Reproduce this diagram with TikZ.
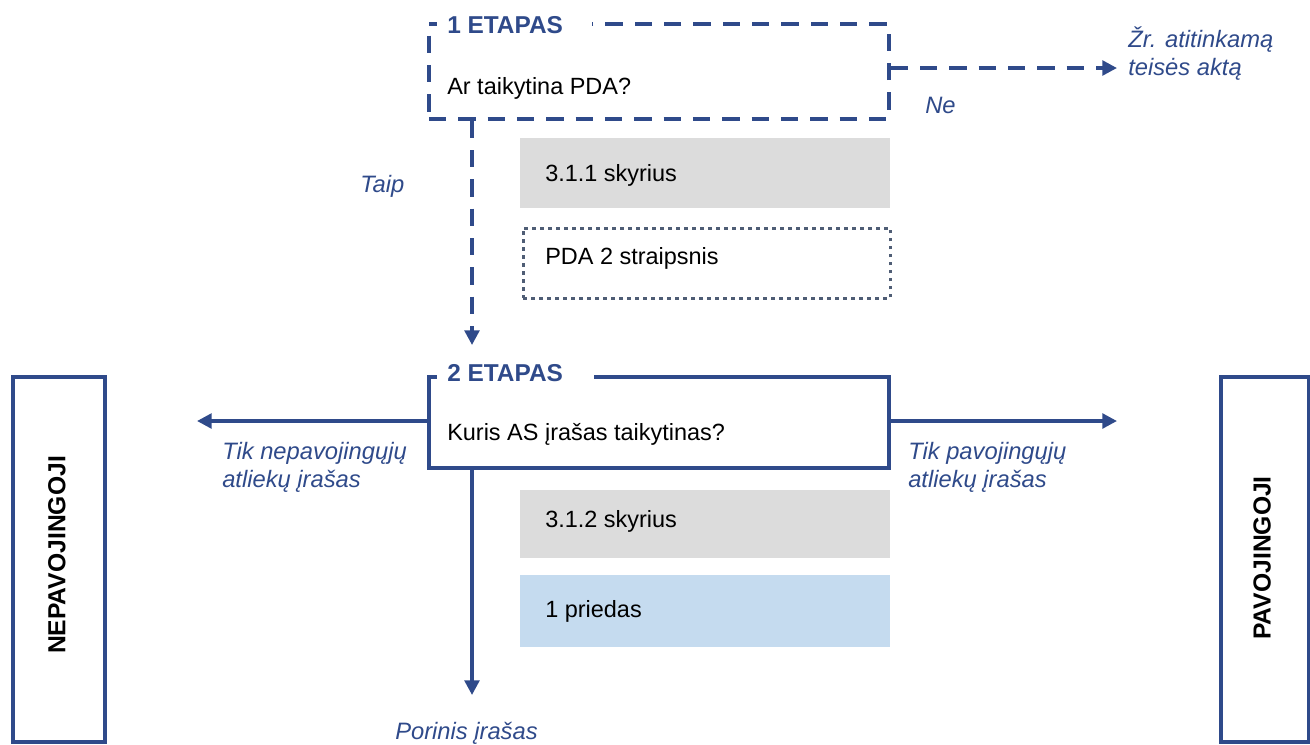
\documentclass[tikz,border=0pt]{standalone}
\usepackage{fontspec}
\setmainfont{Liberation Sans}
\usetikzlibrary{arrows.meta}
\definecolor{navy}{HTML}{2F4A8A}
\definecolor{boxgray}{HTML}{DCDCDC}
\definecolor{boxblue}{HTML}{C5DBEF}
\definecolor{dotgray}{HTML}{4F5D75}
\tikzset{
  x=0.75pt, y=-0.75pt,
  every node/.style={font=\fontsize{17.6}{21}\selectfont, inner sep=0pt},
  stagebox/.style={draw=navy, line width=2.8pt, minimum width=345pt, minimum height=70pt, anchor=north west},
  dashedstage/.style={stagebox, dash pattern=on 13pt off 9pt},
  stagetitle/.style={fill=white, anchor=west, text=navy, font=\fontsize{18.3}{21}\selectfont\bfseries, inner ysep=3pt},
  bodytext/.style={anchor=west, text=black},
  infobox/.style={minimum width=277.5pt, minimum height=52pt, anchor=north west},
  lbl/.style={text=navy, font=\fontsize{17.8}{21}\selectfont\itshape, align=left},
  conn/.style={draw=navy, line width=2.6pt, -{Triangle[length=11pt,width=11pt]}},
  sidebox/.style={draw=navy, line width=2.8pt, anchor=north west, minimum height=274pt},
  sidetext/.style={rotate=90, font=\fontsize{18.5}{21}\selectfont\bfseries}
}
\begin{document}
\begin{tikzpicture}
\useasboundingbox (0,0) rectangle (1310,744);
% stage 1
\node[dashedstage, minimum height=71.25pt] (b1) at (427,22) {};
\node[stagetitle] (t1) at (437,25) {\hspace{7.5pt}1 ETAPAS\kern22pt};
\node[bodytext] (q1) at (447,88) {Ar taikytina PDA?};
% info boxes stage 1
\node[infobox, fill=boxgray] (s311) at (520,138) {};
\node[bodytext] at (545,175) {3.1.1 skyrius};
\node[infobox, draw=dotgray, line width=2.4pt, dash pattern=on 2.6pt off 3.4pt, minimum width=275.5pt, minimum height=52.5pt] (pda) at (521.5,226.5) {};
\node[bodytext] at (545,258) {PDA 2 straipsnis};
% stage 2
\node[stagebox, minimum height=68.25pt] (b2) at (427,375) {};
\node[stagetitle] (t2) at (437,373) {\hspace{7.5pt}2 ETAPAS\kern23pt};
\node[bodytext] (q2) at (447,434) {Kuris AS įrašas taikytinas?};
\node[infobox, fill=boxgray, minimum height=51pt] (s312) at (520,490) {};
\node[bodytext] at (545,521) {3.1.2 skyrius};
\node[infobox, fill=boxblue, minimum height=54pt] (pr1) at (520,575) {};
\node[bodytext] at (545,611) {1 priedas};
% side boxes
\node[sidebox, minimum width=69pt] (nep) at (11,375) {};
\node[sidetext] at (57,555) {NEPAVOJINGOJI};
\node[sidebox, minimum width=66pt] (pav) at (1219,375) {};
\node[sidetext] at (1262,558) {PAVOJINGOJI};
% coordinates for arrow ends
\coordinate (e1) at (472,345);
\coordinate (ene) at (1117,68);
\coordinate (el) at (197,421);
\coordinate (er) at (1117,421);
\coordinate (ed) at (472,695);
% connectors
\draw[conn, dash pattern=on 13pt off 9pt] (b1.south -| e1) -- (e1);
\draw[conn, dash pattern=on 13pt off 9pt] (b1.east |- ene) -- (ene);
\draw[conn] (b2.west |- el) -- (el);
\draw[conn] (b2.east |- er) -- (er);
\draw[conn] (b2.south -| ed) -- (ed);
% labels
\node[lbl, anchor=west] at (1128,54) {Žr. atitinkamą\\teisės aktą};
\node[lbl, anchor=west] at (925,105) {Ne};
\node[lbl, anchor=west] at (360,186) {Taip};
\node[lbl, anchor=west] at (222,467) {Tik nepavojingųjų\\atliekų įrašas};
\node[lbl, anchor=west] at (908,467) {Tik pavojingųjų\\atliekų įrašas};
\node[lbl, anchor=west] at (395,733) {Porinis įrašas};
\end{tikzpicture}
\end{document}
